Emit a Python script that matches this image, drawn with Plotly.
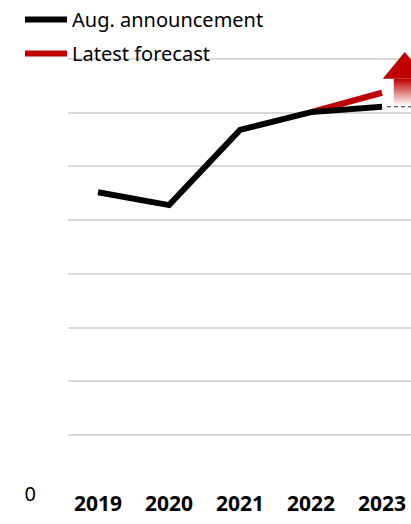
import plotly.graph_objects as go

years = [2019, 2020, 2021, 2022, 2023]
aug_announcement = [5.52, 5.28, 6.68, 7.01, 7.11]
forecast_years = [2022, 2023]
latest_forecast = [7.01, 7.37]
y_ticks = list(range(0, 9))
y_ticklabels = ["0"] + [""] * 8

RED = "#c00000"
FONT = "Noto Sans"

fig = go.Figure()

# red forecast first (drawn under black)
fig.add_trace(go.Scatter(
    x=forecast_years, y=latest_forecast, mode="lines", name="Latest forecast",
    line=dict(color=RED, width=6), legendrank=2, legendgroup="b"))
fig.add_trace(go.Scatter(
    x=years, y=aug_announcement, mode="lines", name="Aug. announcement",
    line=dict(color="#000000", width=6), legendrank=1, legendgroup="a"))

# dashed continuation of the Aug. level
last_x, last_y = years[-1], aug_announcement[-1]
fig.add_trace(go.Scatter(
    x=[last_x + 0.07, last_x + 0.6], y=[last_y, last_y], mode="lines",
    line=dict(color="#333333", width=1.2, dash="4px,3px"), showlegend=False, hoverinfo="skip"))

# upward arrow (shaft with gradient + solid head)
ax = last_x + 0.32
shaft_bottom = last_y + 0.02
shaft_top = latest_forecast[-1] + 0.26
head_tip = shaft_top + 0.5
sw, hw = 0.155, 0.31
fig.add_trace(go.Scatter(
    x=[ax - sw, ax + sw, ax + sw, ax - sw, ax - sw],
    y=[shaft_bottom, shaft_bottom, shaft_top, shaft_top, shaft_bottom],
    mode="lines", line=dict(width=0), fill="toself",
    fillgradient=dict(type="vertical", start=shaft_bottom, stop=shaft_top,
                      colorscale=[[0, "#ffffff"], [1, RED]]),
    showlegend=False, hoverinfo="skip"))
fig.add_trace(go.Scatter(
    x=[ax - hw, ax + hw, ax, ax - hw], y=[shaft_top, shaft_top, head_tip, shaft_top],
    mode="lines", line=dict(width=0), fill="toself", fillcolor=RED,
    showlegend=False, hoverinfo="skip"))

# white mask hiding the top gridline behind the legend area
fig.add_shape(type="rect", xref="paper", yref="y", x0=0, x1=0.47, y0=7.9, y1=8.1,
              fillcolor="white", line=dict(width=0), layer="between")

fig.update_layout(
    width=411, height=524,
    margin=dict(l=68, r=0, t=32, b=35, autoexpand=False),
    paper_bgcolor="white", plot_bgcolor="white",
    font=dict(family=FONT, color="#000000"),
    showlegend=True,
    legend=dict(x=20 / 411, y=1.0 + 4 / 524, xref="container", yref="container",
                xanchor="left", yanchor="top",
                font=dict(size=20, family=FONT), bgcolor="rgba(0,0,0,0)",
                itemwidth=42, tracegroupgap=5, traceorder="grouped"),
    xaxis=dict(range=[2018.5775, 2023.408], tickvals=years, ticktext=[str(y) for y in years],
               showgrid=False, zeroline=False, showline=False, ticks="", tickangle=0,
               automargin=False, tickfont=dict(size=21, family=FONT, weight="bold")),
    yaxis=dict(range=[0, 8.5], tickvals=y_ticks, ticktext=y_ticklabels, automargin=False,
               showgrid=True, gridcolor="#d9d9d9", gridwidth=1.5, zeroline=False,
               ticks="", ticklabelstandoff=31, ticklabelshift=5,
               tickfont=dict(size=20, family=FONT)),
)

fig.write_html("out.html", config={"displayModeBar": False},
               post_script="document.body.style.margin='0px';document.body.style.overflow='hidden';")
